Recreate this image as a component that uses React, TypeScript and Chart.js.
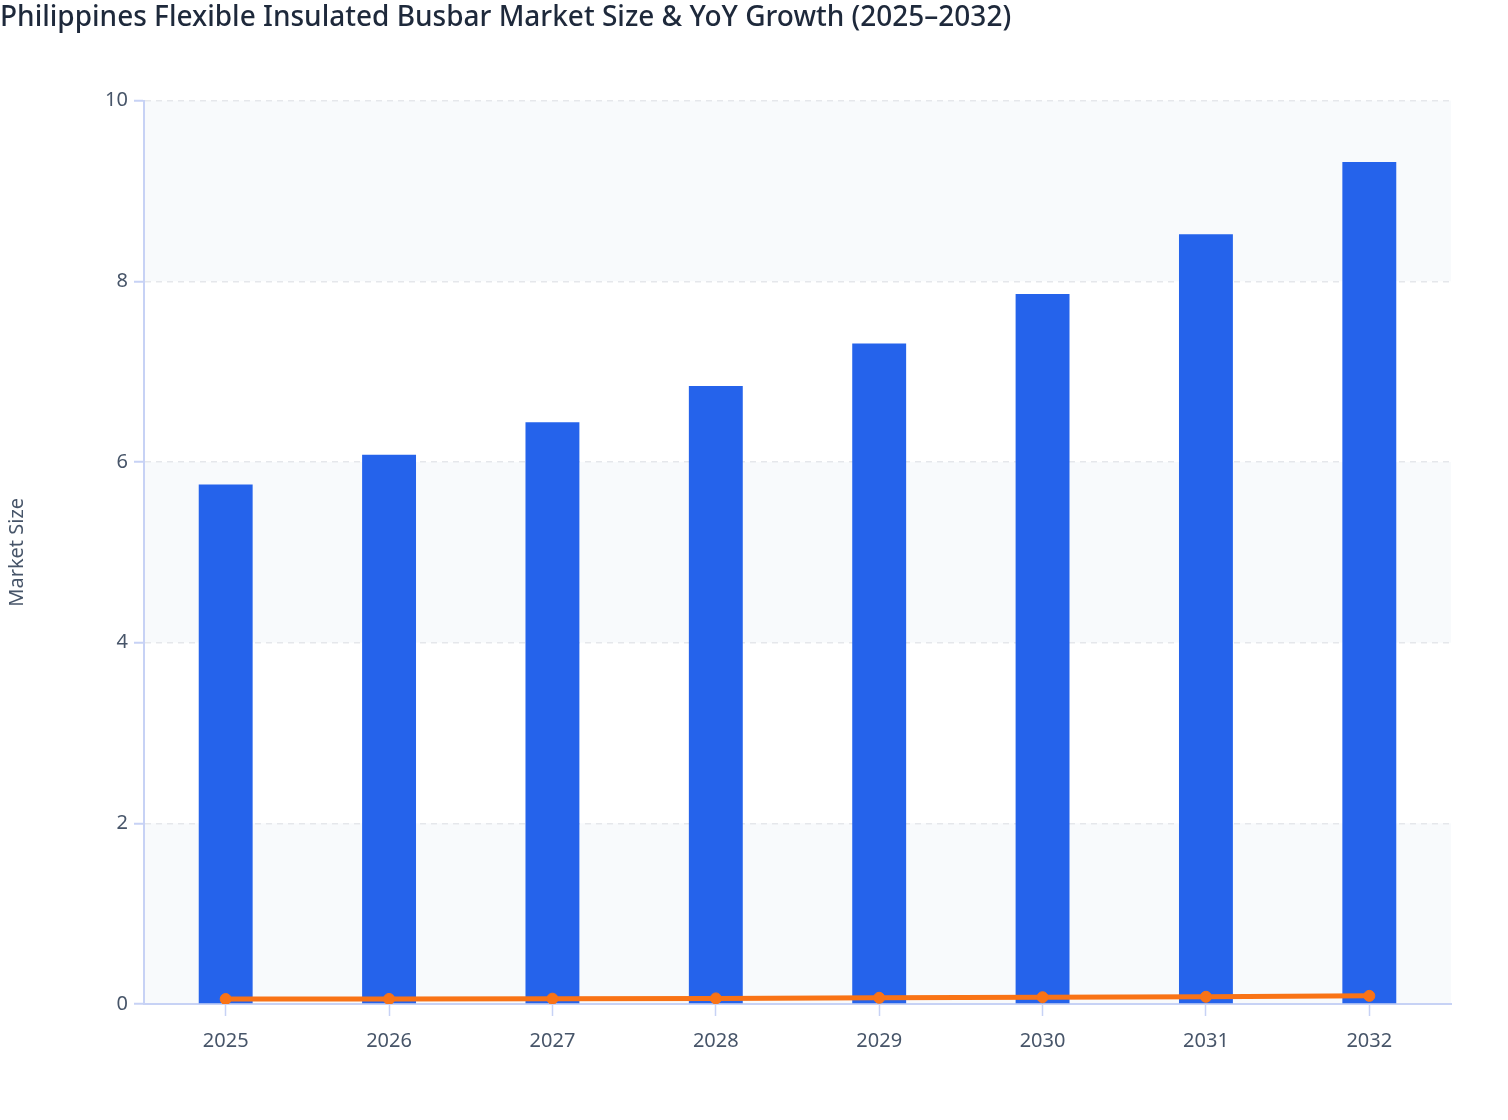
import React, { useEffect, useRef } from "react";
import { Chart, registerables } from "chart.js";

Chart.register(...registerables);

const years = ["2025", "2026", "2027", "2028", "2029", "2030", "2031", "2032"];
const marketSize = [5.75, 6.08, 6.44, 6.84, 7.31, 7.86, 8.52, 9.32];
const yoyGrowth = [0.055, 0.056, 0.059, 0.062, 0.069, 0.075, 0.08, 0.09];
const yTicks = [0, 2, 4, 6, 8, 10];

const FONT = "'Noto Sans', 'Open Sans', sans-serif";

const bandPlugin = {
  id: "bands",
  beforeDraw(chart: any) {
    const { ctx, chartArea, scales } = chart;
    const y = scales.y;
    ctx.save();
    ctx.fillStyle = "#f8fafc";
    for (let i = 0; i + 1 < yTicks.length; i += 2) {
      const top = y.getPixelForValue(yTicks[i + 1]);
      const bottom = y.getPixelForValue(yTicks[i]);
      ctx.fillRect(chartArea.left, top, chartArea.right - chartArea.left, bottom - top);
    }
    ctx.restore();
  },
};

export default function App() {
  const ref = useRef<HTMLCanvasElement | null>(null);
  useEffect(() => {
    document.body.style.margin = "0";
    if (!ref.current) return;
    const chart = new Chart(ref.current, {
      type: "bar",
      data: {
        labels: years,
        datasets: [
          {
            type: "line",
            label: "YoY Growth",
            data: yoyGrowth,
            borderColor: "#f97316",
            backgroundColor: "#f97316",
            borderWidth: 5,
            pointRadius: 5.5,
            pointBorderWidth: 1,
            pointBackgroundColor: "#f97316",
            pointBorderColor: "#f97316",
            tension: 0,
            order: 0,
          } as any,
          {
            type: "bar",
            label: "Market Size",
            data: marketSize,
            backgroundColor: "#2563eb",
            borderWidth: 0,
            barPercentage: 0.33,
            categoryPercentage: 1,
            order: 1,
          },
        ],
      },
      options: {
        animation: false,
        responsive: true,
        maintainAspectRatio: false,
        layout: { padding: { left: 0, right: 57, top: 0, bottom: 0 } },
        plugins: {
          legend: { display: false },
          tooltip: { enabled: false },
          title: {
            display: true,
            text: "Philippines Flexible Insulated Busbar Market Size & YoY Growth (2025–2032)",
            align: "start",
            color: "#1e293b",
            font: { family: FONT, size: 28, weight: "500" as any },
            padding: { top: 1, bottom: 66 },
          },
        },
        scales: {
          x: {
            offset: true,
            grid: {
              display: true,
              offset: false,
              drawOnChartArea: false,
              drawTicks: true,
              tickLength: 12,
              tickColor: "#c7d2f5",
              tickWidth: 1.5,
            },
            border: { display: true, color: "#c7d2f5", width: 2 },
            ticks: {
              color: "#475569",
              font: { family: FONT, size: 20 },
              padding: 13,
            },
            afterFit: (s: any) => {
              s.height = 116;
            },
          },
          y: {
            min: 0,
            max: 10,
            afterBuildTicks: (s: any) => {
              s.ticks = yTicks.map((v) => ({ value: v }));
            },
            grid: {
              color: "#e5e7eb",
              lineWidth: 1.5,
              drawTicks: true,
              tickLength: 10,
              tickColor: "#c7d2f5",
              tickWidth: 2,
            },
            border: { display: true, color: "#c7d2f5", width: 2, dash: [6, 5] },
            ticks: {
              color: "#475569",
              font: { family: FONT, size: 20 },
              padding: 6,
            },
            title: {
              display: true,
              text: "Market Size",
              color: "#475569",
              font: { family: FONT, size: 20 },
              padding: { top: 5, bottom: 0 },
            },
            afterFit: (s: any) => {
              s.width = 144;
            },
          },
        },
      },
      plugins: [bandPlugin],
    });
    return () => chart.destroy();
  }, []);
  return (
    <div style={{ position: "relative", width: 1508, height: 1120 }}>
      <canvas ref={ref} />
    </div>
  );
}
